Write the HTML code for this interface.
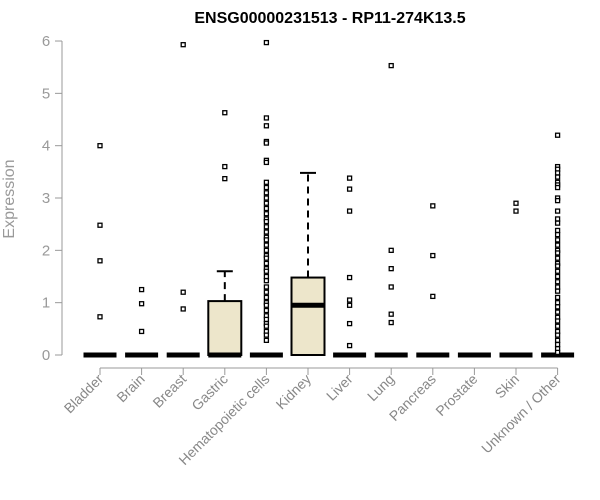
<!DOCTYPE html>
<html><head><meta charset="utf-8"><style>body{margin:0;background:#fff}svg{display:block;font-family:"Liberation Sans",Arial,sans-serif}</style></head>
<body>
<svg id="c" width="600" height="500">
<text x="330" y="23" text-anchor="middle" font-weight="bold" font-size="16">ENSG00000231513 - RP11-274K13.5</text>
<text transform="translate(14,199) rotate(-90)" text-anchor="middle" font-size="16" fill="#999">Expression</text>
<g id="g"></g>
</svg>
<script>
const categories=["Bladder","Brain","Breast","Gastric","Hematopoietic cells","Kidney","Liver","Lung","Pancreas","Prostate","Skin","Unknown / Other"];
const q1=[0,0,0,0,0,0,0,0,0,0,0,0];
const medians=[0,0,0,0,0,0.95,0,0,0,0,0,0];
const q3=[0,0,0,1.03,0,1.48,0,0,0,0,0,0];
const whiskerHi=[0,0,0,1.6,0,3.48,0,0,0,0,0,0];
const outliers=[
[4.0,2.48,1.8,0.73],
[1.25,0.98,0.45],
[5.93,1.2,0.88],
[4.63,3.6,3.37],
[5.97,4.53,4.38,4.08,4.05,3.72,3.68,3.3,3.2,3.1,3.0,2.9,2.8,2.7,2.6,2.55,2.45,2.35,2.25,2.2,2.1,2.0,1.9,1.85,1.75,1.65,1.6,1.5,1.42,1.3,1.2,1.1,1.0,0.95,0.85,0.75,0.68,0.6,0.55,0.45,0.38,0.28],
[],
[3.38,3.17,2.75,1.48,1.05,0.95,0.6,0.18],
[5.53,2.0,1.65,1.3,0.78,0.62],
[2.85,1.9,1.12],
[],
[2.9,2.75],
[4.2,3.6,3.55,3.48,3.4,3.3,3.25,3.2,3.0,2.95,2.75,2.6,2.52,2.38,2.3,2.2,2.1,2.0,1.95,1.85,1.75,1.7,1.6,1.5,1.4,1.3,1.22,1.1,1.0,0.92,0.82,0.72,0.65,0.55,0.45,0.38,0.28,0.2,0.12,0.05]];
const yTicks=[0,1,2,3,4,5,6];
const NS="http://www.w3.org/2000/svg",g=document.getElementById('g');
const y=v=>355-v*52.33, x=i=>100+i*41.6;
function mk(t,a){const e=document.createElementNS(NS,t);for(const k in a)e.setAttribute(k,a[k]);g.appendChild(e);return e;}
let e=mk('line',{x1:62,x2:62,y1:y(0),y2:y(6),stroke:'#999'});


yTicks.forEach(t=>{mk('line',{x1:55,x2:62,y1:y(t),y2:y(t),stroke:'#999'});
 const tx=mk('text',{x:46,y:y(t)+5,'text-anchor':'middle','font-size':15,fill:'#999'});tx.textContent=t;
 
 });
e=mk('line',{x1:x(0),x2:x(11),y1:368,y2:368,stroke:'#999'});


categories.forEach((c,i)=>{const cx=x(i),hw=16.5;
 mk('line',{x1:cx,x2:cx,y1:368,y2:375,stroke:'#999'});
 const t=mk('text',{transform:`translate(${cx+4},${380}) rotate(-45)`,'text-anchor':'end','font-size':14,fill:'#888'});t.textContent=c;
 
 
 if(whiskerHi[i]>q3[i]){mk('line',{x1:cx,x2:cx,y1:y(q3[i]),y2:y(whiskerHi[i]),stroke:'#000','stroke-width':2,'stroke-dasharray':'7,5'});
  mk('line',{x1:cx-8,x2:cx+8,y1:y(whiskerHi[i]),y2:y(whiskerHi[i]),stroke:'#000','stroke-width':2});}
 if(q3[i]>q1[i]){const b=mk('rect',{x:cx-hw,y:y(q3[i]),width:2*hw,height:y(q1[i])-y(q3[i]),fill:'#ede6cb',stroke:'#000','stroke-width':2});
  
  }
 const m=mk('line',{x1:cx-hw,x2:cx+hw,y1:y(medians[i]),y2:y(medians[i]),stroke:'#000','stroke-width':5});
 
 
 outliers[i].forEach(v=>{const p=mk('rect',{x:cx-2,y:y(v)-2,width:4,height:4,fill:'#fff',stroke:'#000','stroke-width':1.3});
  
  });
});
</script>
</body></html>
